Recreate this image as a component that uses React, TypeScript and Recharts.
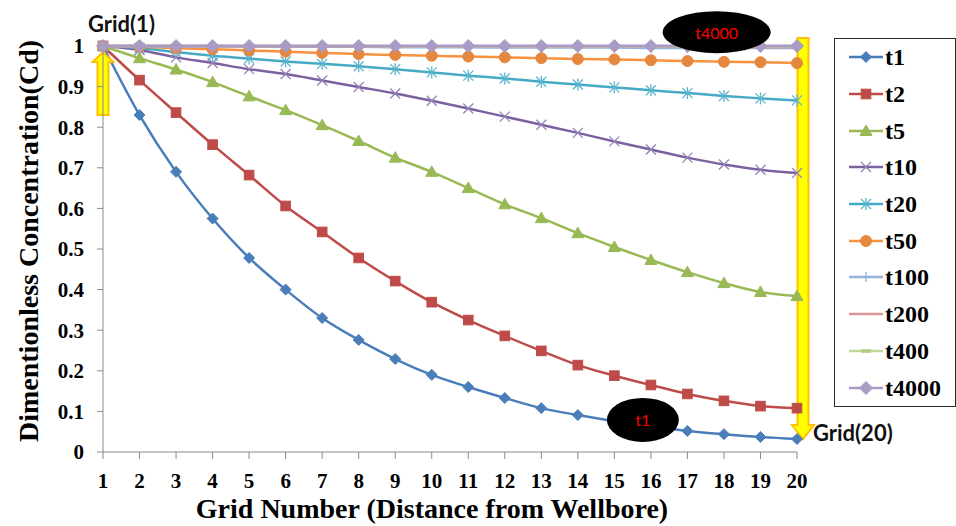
import React from 'react';
import { LineChart, Line, XAxis, YAxis, ReferenceDot, ReferenceLine } from 'recharts';

// Grid numbers along the bore (x axis)
const grids = [1, 2, 3, 4, 5, 6, 7, 8, 9, 10, 11, 12, 13, 14, 15, 16, 17, 18, 19, 20];

// Dimensionless concentration per grid for each time step
const t1 = [1, 0.83, 0.69, 0.575, 0.478, 0.4, 0.33, 0.276, 0.229, 0.19, 0.16, 0.133, 0.108, 0.091, 0.076, 0.063, 0.052, 0.044, 0.037, 0.032];
const t2 = [1, 0.916, 0.836, 0.757, 0.682, 0.606, 0.542, 0.478, 0.421, 0.369, 0.325, 0.286, 0.249, 0.214, 0.188, 0.165, 0.143, 0.126, 0.113, 0.108];
const t5 = [1, 0.97, 0.942, 0.911, 0.876, 0.842, 0.805, 0.766, 0.725, 0.69, 0.65, 0.61, 0.576, 0.539, 0.505, 0.473, 0.443, 0.416, 0.394, 0.384];
const t10 = [1, 0.99, 0.972, 0.958, 0.943, 0.931, 0.915, 0.899, 0.883, 0.865, 0.846, 0.826, 0.806, 0.786, 0.765, 0.745, 0.725, 0.708, 0.695, 0.687];
const t20 = [1, 0.995, 0.985, 0.976, 0.969, 0.962, 0.956, 0.95, 0.943, 0.935, 0.927, 0.92, 0.912, 0.905, 0.898, 0.891, 0.884, 0.877, 0.871, 0.866];
const t50 = [1, 0.998, 0.995, 0.992, 0.989, 0.986, 0.983, 0.98, 0.978, 0.976, 0.974, 0.972, 0.97, 0.968, 0.967, 0.965, 0.963, 0.961, 0.96, 0.958];
const t100 = [1, 1, 0.999, 0.999, 0.999, 0.998, 0.998, 0.998, 0.997, 0.997, 0.997, 0.996, 0.996, 0.996, 0.996, 0.995, 0.995, 0.995, 0.995, 0.995];
const t200 = [1, 1, 1, 1, 0.999, 0.999, 0.999, 0.999, 0.999, 0.999, 0.998, 0.998, 0.998, 0.998, 0.998, 0.998, 0.998, 0.998, 0.997, 0.997];
const t400 = [1, 1, 1, 1, 1, 1, 1, 1, 0.999, 0.999, 0.999, 0.999, 0.999, 0.999, 0.999, 0.999, 0.999, 0.999, 0.999, 0.999];
const t4000 = [1, 1, 1, 1, 1, 1, 1, 1, 1, 1, 1, 1, 1, 1, 1, 1, 1, 1, 1, 1];

const yTicks = [0, 0.1, 0.2, 0.3, 0.4, 0.5, 0.6, 0.7, 0.8, 0.9, 1];

type MarkerKind = 'diamond' | 'square' | 'triangle' | 'cross' | 'star' | 'circle' | 'plus' | 'none' | 'dash';

interface Series {
  key: string;
  values: number[];
  color: string;
  markerColor: string;
  marker: MarkerKind;
  size: number;
  width: number;
}

const series: Series[] = [
  { key: 't1', values: t1, color: '#4A7EBB', markerColor: '#4A7EBB', marker: 'diamond', size: 5.5, width: 2.5 },
  { key: 't2', values: t2, color: '#BE4B48', markerColor: '#BE4B48', marker: 'square', size: 4.8, width: 2.5 },
  { key: 't5', values: t5, color: '#98B954', markerColor: '#98B954', marker: 'triangle', size: 5.5, width: 2.5 },
  { key: 't10', values: t10, color: '#7D60A0', markerColor: '#9582B4', marker: 'cross', size: 5, width: 2.5 },
  { key: 't20', values: t20, color: '#46AAC5', markerColor: '#5CB5CE', marker: 'star', size: 5, width: 2.5 },
  { key: 't50', values: t50, color: '#F69240', markerColor: '#E5883F', marker: 'circle', size: 5.5, width: 2.5 },
  { key: 't100', values: t100, color: '#95B3D7', markerColor: '#95B3D7', marker: 'plus', size: 5, width: 2.5 },
  { key: 't200', values: t200, color: '#D99694', markerColor: '#D99694', marker: 'none', size: 0, width: 2.5 },
  { key: 't400', values: t400, color: '#C3D69B', markerColor: '#B5CC88', marker: 'dash', size: 5, width: 2.5 },
  { key: 't4000', values: t4000, color: '#A99BC3', markerColor: '#A99BC3', marker: 'diamond', size: 6.5, width: 3 },
];

const rows = grids.map((g, i) => {
  const row: Record<string, number> = { grid: g };
  series.forEach((s) => {
    row[s.key] = s.values[i];
  });
  return row;
});

const serif = "'Liberation Serif', 'DejaVu Serif', 'Noto Serif', serif";
const sans = "Lato, 'Liberation Sans', Arial, sans-serif";
const axisGray = '#8a8a8a';

function Marker({ kind, cx, cy, color, size }: { kind: MarkerKind; cx: number; cy: number; color: string; size: number }) {
  switch (kind) {
    case 'diamond':
      return (
        <polygon
          points={`${cx},${cy - size} ${cx + size},${cy} ${cx},${cy + size} ${cx - size},${cy}`}
          fill={color}
          stroke={color}
          strokeWidth={1}
        />
      );
    case 'square':
      return <rect x={cx - size} y={cy - size} width={size * 2} height={size * 2} fill={color} stroke={color} strokeWidth={1} />;
    case 'triangle':
      return (
        <polygon
          points={`${cx},${cy - size - 0.5} ${cx + size + 0.5},${cy + size - 1} ${cx - size - 0.5},${cy + size - 1}`}
          fill={color}
          stroke={color}
          strokeWidth={1}
        />
      );
    case 'cross':
      return (
        <g stroke={color} strokeWidth={1.3}>
          <line x1={cx - size} y1={cy - size} x2={cx + size} y2={cy + size} />
          <line x1={cx - size} y1={cy + size} x2={cx + size} y2={cy - size} />
        </g>
      );
    case 'star':
      return (
        <g stroke={color} strokeWidth={1.3}>
          <line x1={cx - size} y1={cy - size} x2={cx + size} y2={cy + size} />
          <line x1={cx - size} y1={cy + size} x2={cx + size} y2={cy - size} />
          <line x1={cx} y1={cy - size - 1} x2={cx} y2={cy + size + 1} />
        </g>
      );
    case 'circle':
      return <circle cx={cx} cy={cy} r={size} fill={color} stroke={color} strokeWidth={1} />;
    case 'plus':
      return (
        <g stroke={color} strokeWidth={1.3}>
          <line x1={cx - size} y1={cy} x2={cx + size} y2={cy} />
          <line x1={cx} y1={cy - size} x2={cx} y2={cy + size} />
        </g>
      );
    case 'dash':
      return <rect x={cx - size} y={cy - 1.8} width={size * 2} height={3.6} fill={color} />;
    default:
      return null;
  }
}

function makeDot(s: Series) {
  return (p: any) => (
    <g key={`${s.key}-${p.index}`}>
      {p.cx != null && p.cy != null ? (
        <Marker kind={s.marker} cx={p.cx} cy={p.cy} color={s.markerColor} size={s.size} />
      ) : null}
    </g>
  );
}

// Vertical block arrow between two points (tip at the second point)
function BlockArrow(props: any, dx: number, headLen: number, halfShaft: number, halfHead: number) {
  const x = props.x1 + dx;
  const yStart = props.y1;
  const yTip = props.y2;
  const dir = yTip > yStart ? 1 : -1;
  const yBase = yTip - dir * headLen;
  const pts = [
    [x - halfShaft, yStart],
    [x - halfShaft, yBase],
    [x - halfHead, yBase],
    [x, yTip],
    [x + halfHead, yBase],
    [x + halfShaft, yBase],
    [x + halfShaft, yStart],
  ]
    .map((p) => p.join(','))
    .join(' ');
  return <polygon points={pts} fill="#FFFF00" stroke="#FFC000" strokeWidth={2} strokeLinejoin="miter" />;
}

function EllipseTag(text: string, rx: number, ry: number) {
  return (p: any) => (
    <g>
      <ellipse cx={p.cx} cy={p.cy} rx={rx} ry={ry} fill="#000" />
      <text x={p.cx} y={p.cy} textAnchor="middle" dominantBaseline="central" fill="#FF0000" fontFamily={sans} fontSize={16}>
        {text}
      </text>
    </g>
  );
}

function GridTag(text: string, dx: number, dy: number) {
  return (p: any) => (
    <text x={p.cx + dx} y={p.cy + dy} textAnchor="start" dominantBaseline="central" fill="#111" fontFamily={sans} fontWeight="bold" fontSize={22}>
      {text}
    </text>
  );
}

function LegendBox() {
  return (
    <div
      style={{
        position: 'absolute',
        left: 834,
        top: 38,
        width: 120,
        height: 367,
        border: '1px solid #2a2a2a',
        background: '#fff',
      }}
    >
      {series.map((s) => (
        <div key={s.key} style={{ height: 36.7, display: 'flex', alignItems: 'center' }}>
          <svg width={34} height={16} style={{ marginLeft: 14, overflow: 'visible' }}>
            <line x1={0} y1={8} x2={34} y2={8} stroke={s.color} strokeWidth={2.5} />
            <Marker kind={s.marker} cx={17} cy={8} color={s.markerColor} size={s.size} />
          </svg>
          <span style={{ marginLeft: 2, fontFamily: serif, fontWeight: 'bold', fontSize: 24, color: '#000', lineHeight: 1 }}>
            {s.key}
          </span>
        </div>
      ))}
    </div>
  );
}

const tickStyle = { fontFamily: serif, fontWeight: 'bold' as const, fontSize: 21, fill: '#000' };

export default function App() {
  return (
    <div style={{ position: 'absolute', left: 0, top: 0, width: 956, height: 526, background: '#fff' }}>
      <LineChart width={956} height={526} data={rows} margin={{ top: 46, right: 159, bottom: 44, left: 43 }}>
        <XAxis
          dataKey="grid"
          type="number"
          domain={[1, 20]}
          ticks={grids}
          allowDecimals={false}
          height={30}
          stroke={axisGray}
          tickSize={7}
          tickMargin={14}
          tick={tickStyle}
          label={(p: any) => (
            <text
              x={p.viewBox.x + p.viewBox.width / 2 - 18}
              y={p.viewBox.y + 66}
              textAnchor="middle"
              fontFamily={serif}
              fontWeight="bold"
              fontSize={28}
              fill="#000"
            >
              Grid Number  (Distance from Wellbore)
            </text>
          )}
        />
        <YAxis
          type="number"
          domain={[0, 1]}
          ticks={yTicks}
          width={60}
          stroke={axisGray}
          tickSize={6}
          tickMargin={13}
          tick={tickStyle}
          tickFormatter={(v: number) => String(v)}
          label={(p: any) => {
            const cx = p.viewBox.x - 15;
            const cy = p.viewBox.y + p.viewBox.height / 2 - 8;
            return (
              <text
                x={cx}
                y={cy}
                transform={`rotate(-90, ${cx}, ${cy})`}
                textAnchor="middle"
                dominantBaseline="central"
                fontFamily={serif}
                fontWeight="bold"
                fontSize={28}
                fill="#000"
              >
                Dimentionless  Concentration(Cd)
              </text>
            );
          }}
        />
        {series.map((s) => (
          <Line
            key={s.key}
            type="monotone"
            dataKey={s.key}
            stroke={s.color}
            strokeWidth={s.width}
            dot={makeDot(s)}
            activeDot={false}
            isAnimationActive={false}
          />
        ))}
        <ReferenceLine
          segment={[{ x: 1, y: 0.83 }, { x: 1, y: 0.985 }]}
          ifOverflow="visible"
          shape={(p: any) => BlockArrow(p, 0, 10, 5.5, 10.5)}
        />
        <ReferenceLine
          segment={[{ x: 20, y: 1.02 }, { x: 20, y: t1[19] }]}
          ifOverflow="visible"
          shape={(p: any) => BlockArrow(p, 6, 14, 5.5, 11)}
        />
        <ReferenceDot x={17.8} y={1.034} ifOverflow="visible" shape={EllipseTag('t4000', 54, 21)} />
        <ReferenceDot x={15.78} y={0.079} ifOverflow="visible" shape={EllipseTag('t1', 36, 22)} />
        <ReferenceDot x={1} y={1} ifOverflow="visible" shape={GridTag('Grid(1)', -15, -23)} />
        <ReferenceDot x={20} y={t1[19]} ifOverflow="visible" shape={GridTag('Grid(20)', 16, -7)} />
      </LineChart>
      <LegendBox />
    </div>
  );
}
